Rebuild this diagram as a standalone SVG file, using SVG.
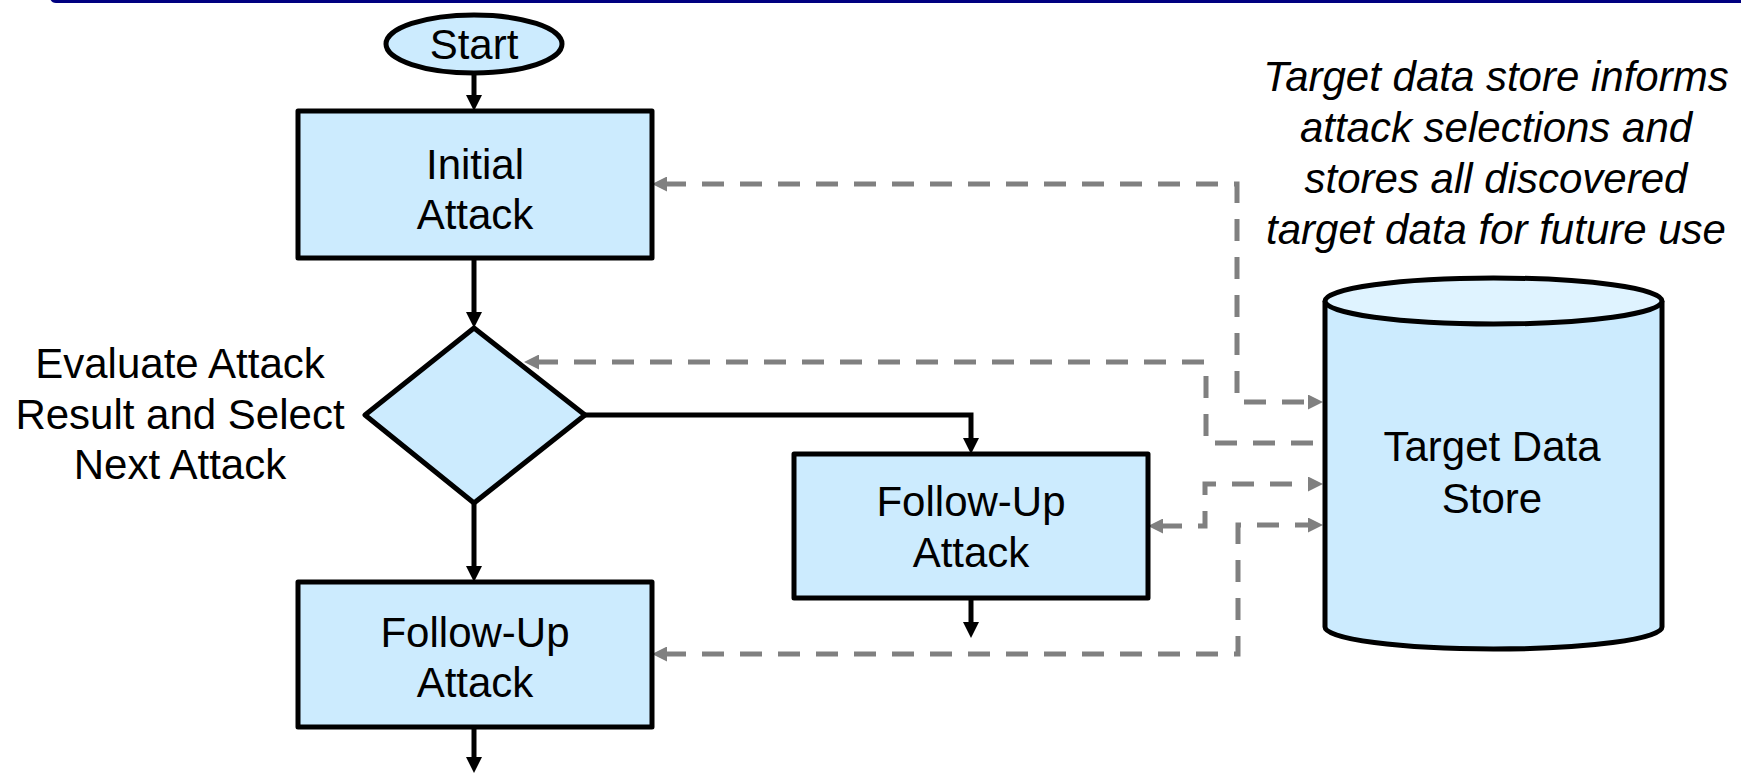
<svg xmlns="http://www.w3.org/2000/svg" width="1741" height="774" viewBox="0 0 1741 774">
<style>
.shape{fill:#CCEBFE;stroke:#000;stroke-width:5;stroke-linejoin:round}
.t{font-family:"Liberation Sans",Arial,sans-serif;font-size:42px;fill:#000;text-anchor:middle}
.it{font-family:"Liberation Sans",Arial,sans-serif;font-size:42px;font-style:italic;fill:#000;text-anchor:middle}
.flow{fill:none;stroke:#000;stroke-width:5;marker-end:url(#ab)}
.data{fill:none;stroke:#808080;stroke-width:5;stroke-dasharray:22 16}
</style>
<defs>
<marker id="ab" markerUnits="userSpaceOnUse" markerWidth="16" markerHeight="16" refX="3" refY="8" orient="auto">
<path d="M0,0 L16,8 L0,16 z" fill="#000"/>
</marker>
<marker id="ag" markerUnits="userSpaceOnUse" markerWidth="15" markerHeight="15" refX="3" refY="7.5" orient="auto-start-reverse">
<path d="M0,0 L15,7.5 L0,15 z" fill="#808080"/>
</marker>
</defs>
<rect width="1741" height="774" fill="#fff"/>
<path d="M50,-2 H1741 V3 H56 Q51,3 50,-2 z" fill="#000080"/>

<g id="connectors">
<path class="flow" d="M474,73 V98"/>
<path class="flow" d="M474,258 V315"/>
<path class="flow" d="M474,503 V569"/>
<path class="flow" d="M585,415 H971 V441"/>
<path class="flow" d="M971,598 V625"/>
<path class="flow" d="M474,727 V760"/>
<path class="data" d="M664,184 H1237 V402 H1311" marker-start="url(#ag)" marker-end="url(#ag)"/>
<path class="data" d="M1313,443 H1206 V362 H536" marker-end="url(#ag)"/>
<path class="data" d="M1160,526 H1205 V484 H1311" marker-start="url(#ag)" marker-end="url(#ag)"/>
<path class="data" d="M664,654 H1238 V525 H1311" marker-start="url(#ag)" marker-end="url(#ag)"/>
</g>

<g id="start">
<ellipse class="shape" cx="474" cy="44" rx="88" ry="29"/>
<text class="t" x="474" y="59">Start</text>
</g>

<g id="initial-attack">
<rect class="shape" x="298" y="111" width="354" height="147"/>
<text class="t" x="475" y="179">Initial</text>
<text class="t" x="475" y="229">Attack</text>
</g>

<g id="evaluate">
<polygon class="shape" points="474,328 585,415 474,503 365,415"/>
<text class="t" x="180" y="378">Evaluate Attack</text>
<text class="t" x="180" y="429">Result and Select</text>
<text class="t" x="180" y="479">Next Attack</text>
</g>

<g id="follow-up-right">
<rect class="shape" x="794" y="454" width="354" height="144"/>
<text class="t" x="971" y="516">Follow-Up</text>
<text class="t" x="971" y="567">Attack</text>
</g>

<g id="follow-up-left">
<rect class="shape" x="298" y="582" width="354" height="145"/>
<text class="t" x="475" y="647">Follow-Up</text>
<text class="t" x="475" y="697">Attack</text>
</g>

<g id="target-data-store">
<path class="shape" d="M1325,301 V627 A168.5,22 0 0 0 1662,627 V301"/>
<ellipse cx="1493.5" cy="301" rx="168.5" ry="23" fill="#DFF3FF" stroke="#000" stroke-width="5"/>
<text class="t" x="1492" y="461">Target Data</text>
<text class="t" x="1492" y="513">Store</text>
</g>

<g id="note">
<text class="it" x="1496" y="91">Target data store informs</text>
<text class="it" x="1496" y="142">attack selections and</text>
<text class="it" x="1496" y="193">stores all discovered</text>
<text class="it" x="1496" y="244">target data for future use</text>
</g>
</svg>
